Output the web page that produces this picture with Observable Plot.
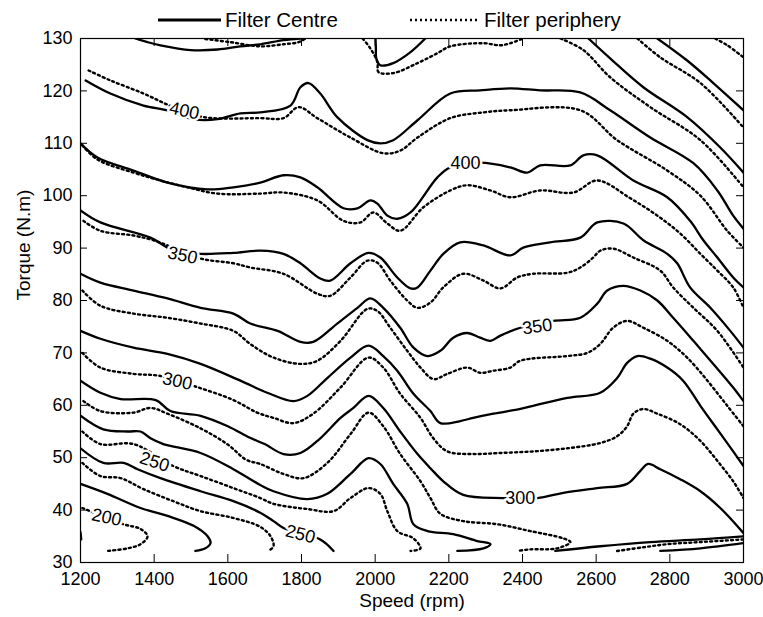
<!DOCTYPE html>
<html><head><meta charset="utf-8">
<script src="https://cdn.jsdelivr.net/npm/d3@7"></script>
<script src="https://cdn.jsdelivr.net/npm/@observablehq/plot@0.6"></script>
<style>body{margin:0;background:#fff;font-family:"Liberation Sans",Arial,sans-serif}#legend,#chart{width:763px}</style>
</head><body>
<div id="legend"></div>
<div id="chart"></div>
<script>
// ---- data: contour lines as [speed (rpm), torque (N.m)] ----
const seriesNames = ["Filter Centre", "Filter periphery"];
const xTicks = [1200, 1400, 1600, 1800, 2000, 2200, 2400, 2600, 2800, 3000];
const yTicks = [30, 40, 50, 60, 70, 80, 90, 100, 110, 120, 130];

const centreT1 = [[1349,130],[1382,129.3],[1417,128.7],[1499,127.8],[1572,127.9],[1634,128.5],[1688,128.9],[1751,129.7],[1797,130]];
const centreT2 = [[2001,130],[2002,128],[2003,126.2],[2014,124.9],[2049,125.3],[2096,127.4],[2136,130]];
const centreR1 = [[2766,130],[2847,125.8],[2918,121.5],[3000,116.3]];
const centreR2 = [[2579,130],[2638,126.2],[2728,120.7],[2847,115.0],[2937,109.2],[3000,104.4]];
const centreA = [[1214,122.0],[1281,119.5],[1371,117.2],[1436,116.3],[1507,114.6],[1572,114.6],[1634,115.7],[1688,115.9],[1770,117.2],[1797,120.7],[1819,121.5],[1851,119.5],[1897,115.0],[1979,110.6],[2014,110.0],[2049,110.6],[2115,114.4],[2204,119.5],[2285,120.1],[2367,120.5],[2448,120.1],[2557,119.7],[2638,116.3],[2747,111.1],[2864,106.2],[2929,101.0],[2972,96.2],[3000,93.7]];
const centreB = [[1200,110.0],[1246,107.3],[1344,104.8],[1436,102.5],[1545,101.2],[1615,101.6],[1688,102.5],[1751,103.9],[1797,103.5],[1843,101.6],[1914,97.6],[1952,97.6],[1987,99.1],[2006,98.5],[2033,96.2],[2060,95.6],[2096,96.8],[2169,103.5],[2204,105.4],[2285,106.3],[2367,105.4],[2413,104.4],[2448,105.8],[2530,105.8],[2565,107.7],[2603,107.7],[2701,102.9],[2793,99.7],[2855,95.2],[2891,91.5],[2929,88.2],[2972,84.4],[3000,82.5]];
const centreC = [[1200,97.2],[1254,94.9],[1390,92.0],[1436,90.1],[1463,89.5],[1526,88.9],[1615,89.1],[1688,89.5],[1751,88.9],[1797,87.1],[1851,84.2],[1878,83.8],[1933,87.1],[1982,89.1],[2014,88.2],[2060,84.4],[2096,82.3],[2115,82.5],[2150,85.7],[2185,88.9],[2231,91.1],[2294,90.5],[2367,88.6],[2402,90.1],[2475,91.1],[2557,92.0],[2603,94.9],[2674,94.7],[2728,91.5],[2793,88.9],[2820,87.1],[2855,82.5],[2910,78.6],[2964,74.2],[3000,71.0]];
const centreD = [[1200,85.1],[1254,83.4],[1344,81.9],[1436,80.4],[1526,78.6],[1615,77.5],[1661,75.6],[1735,74.2],[1797,72.1],[1832,72.1],[1897,75.6],[1952,78.6],[1987,80.4],[2022,78.6],[2068,74.8],[2104,71.0],[2142,69.4],[2177,70.4],[2212,72.9],[2250,73.8],[2285,72.9],[2313,72.3],[2340,73.3],[2394,74.8],[2484,76.1],[2557,76.7],[2603,79.4],[2630,81.9],[2674,82.8],[2720,81.9],[2766,80.0],[2809,76.7],[2864,72.3],[2918,67.9],[2972,63.4],[3000,60.8]];
const centreE = [[1200,74.2],[1254,72.7],[1344,71.0],[1436,69.8],[1526,67.9],[1634,64.7],[1707,62.4],[1778,60.8],[1816,61.8],[1870,65.2],[1933,69.1],[1982,71.4],[2022,69.4],[2060,66.6],[2104,62.2],[2150,58.9],[2177,56.6],[2231,57.0],[2266,57.6],[2321,58.4],[2394,59.3],[2429,59.9],[2522,61.4],[2611,62.4],[2657,65.2],[2684,68.1],[2712,69.4],[2747,68.9],[2793,67.2],[2836,64.7],[2883,59.9],[2929,55.4],[2972,51.2],[3000,48.4]];
const centreF = [[1200,64.7],[1254,62.4],[1309,61.2],[1404,61.0],[1444,58.9],[1526,58.0],[1600,56.0],[1660,53.8],[1700,52.6],[1751,50.7],[1797,50.9],[1851,53.7],[1906,57.6],[1941,59.5],[1982,61.8],[2022,59.5],[2068,55.0],[2115,50.7],[2150,48.0],[2185,45.5],[2239,42.9],[2348,42.3],[2440,42.3],[2511,43.3],[2603,44.2],[2684,45.0],[2720,47.5],[2741,48.8],[2774,47.8],[2828,45.9],[2883,43.6],[2937,40.4],[3000,35.6]];
const centreG = [[1200,58.0],[1262,55.4],[1328,55.0],[1363,55.0],[1390,53.7],[1425,52.6],[1526,50.9],[1615,47.8],[1688,44.8],[1724,43.6],[1816,42.1],[1870,43.1],[1933,46.9],[1982,49.9],[2014,48.8],[2049,45.0],[2087,41.2],[2104,37.3],[2142,36.0],[2212,35.4],[2277,34.1],[2313,33.5],[2294,32.7],[2223,32.2]];
const centreH = [[1200,51.8],[1262,49.0],[1317,49.0],[1355,47.8],[1417,46.1],[1526,43.6],[1615,41.7],[1688,39.5],[1724,37.9],[1751,36.6],[1851,34.4],[1887,32.2]];
const centreI = [[1200,45.0],[1273,43.1],[1363,40.4],[1436,38.9],[1507,37.0],[1545,35.0],[1553,33.7],[1539,32.7],[1512,32.2]];
const centreEdge = [[1200,35.8],[1202,34.4]];
const centreJ = [[2489,32.2],[2611,33.1],[2747,33.9],[2883,34.4],[3000,35.0]];
const centreK = [[2774,32.2],[2883,32.7],[3000,33.7]];

const periphT1 = [[1539,129.9],[1607,129.3],[1688,128.5],[1751,128.9],[1792,129.3],[1811,130]];
const periphT2 = [[1966,130],[1987,128.1],[2006,125.5],[2009,123.6],[2049,123.4],[2115,125.3],[2169,127.2],[2204,128.5],[2294,129.1],[2340,128.7],[2367,129.1],[2402,130]];
const periphR1 = [[2923,130],[2956,128.7],[3000,126.4]];
const periphR2 = [[2712,130],[2774,126.4],[2883,121.5],[3000,113.0]];
const periphR3 = [[2503,130],[2565,127.8],[2638,122.6],[2747,116.9],[2883,110.6],[3000,101.6]];
const periphA = [[1222,123.9],[1281,122.0],[1371,119.5],[1452,116.9],[1534,115.0],[1688,114.8],[1751,114.8],[1792,116.9],[1843,114.8],[1933,111.1],[2022,108.1],[2068,108.6],[2115,111.1],[2204,114.8],[2294,115.9],[2367,116.3],[2557,116.3],[2657,110.6],[2793,104.8],[2883,100.0],[2956,93.3],[3000,90.1]];
const periphB = [[1205,109.6],[1246,106.9],[1344,104.4],[1417,102.9],[1490,101.6],[1572,100.4],[1688,100.4],[1751,100.6],[1843,99.1],[1914,95.2],[1960,94.9],[1995,96.8],[2033,94.7],[2068,93.3],[2131,97.8],[2204,101.0],[2250,102.0],[2313,101.0],[2367,99.7],[2448,101.0],[2538,100.6],[2603,102.9],[2693,99.5],[2766,96.2],[2828,92.8],[2883,88.9],[2929,85.7],[2972,82.5],[3000,78.6]];
const periphC = [[1208,95.2],[1254,93.3],[1344,92.4],[1398,91.5],[1458,89.9],[1526,88.0],[1615,87.1],[1661,86.3],[1751,85.1],[1843,81.3],[1878,80.9],[1933,84.4],[1979,87.6],[2006,87.2],[2041,83.8],[2087,80.0],[2115,78.6],[2150,79.6],[2185,82.5],[2239,85.1],[2294,83.8],[2340,82.3],[2386,84.4],[2429,85.1],[2522,85.3],[2557,86.3],[2592,88.2],[2611,89.5],[2646,89.9],[2701,88.2],[2774,85.7],[2809,82.5],[2864,78.6],[2929,74.2],[3000,67.2]];
const periphD = [[1205,81.9],[1254,79.0],[1344,77.5],[1436,76.7],[1526,75.6],[1615,74.2],[1661,71.7],[1724,69.1],[1797,67.9],[1843,68.5],[1906,72.3],[1979,78.4],[2006,78.0],[2041,74.8],[2087,70.4],[2123,67.2],[2158,65.0],[2196,66.0],[2250,67.2],[2285,66.2],[2321,66.6],[2367,67.2],[2394,68.5],[2522,69.4],[2576,70.0],[2611,71.7],[2646,74.8],[2684,76.1],[2728,74.8],[2793,72.3],[2847,69.1],[2902,64.7],[2956,59.9],[3000,56.0]];
const periphE = [[1205,70.0],[1254,67.2],[1344,66.0],[1417,65.6],[1507,63.7],[1615,61.0],[1680,58.6],[1724,57.6],[1778,56.6],[1832,58.4],[1906,63.4],[1982,69.1],[2022,67.2],[2068,62.2],[2123,57.6],[2158,53.7],[2196,51.2],[2266,50.7],[2340,50.9],[2429,51.2],[2522,51.8],[2611,52.8],[2657,54.1],[2684,56.0],[2701,58.4],[2728,59.3],[2766,58.4],[2828,56.4],[2883,53.2],[2929,49.4],[2972,45.5],[3000,42.3]];
const periphF = [[1208,60.8],[1254,58.9],[1344,58.6],[1390,59.5],[1436,58.4],[1526,55.6],[1600,52.5],[1650,49.6],[1688,48.8],[1751,46.9],[1805,46.1],[1870,49.0],[1933,54.5],[1982,58.6],[2022,56.0],[2068,50.7],[2123,45.5],[2150,42.3],[2177,39.3],[2239,37.9],[2332,37.3],[2421,36.0],[2511,34.6],[2530,33.9],[2494,32.7],[2421,32.5],[2386,32.2]];
const periphG = [[1205,55.0],[1254,52.6],[1344,52.6],[1452,48.4],[1526,46.5],[1615,44.2],[1688,42.3],[1724,41.2],[1816,40.2],[1887,39.8],[1933,42.3],[1982,44.2],[2014,43.1],[2033,39.8],[2060,36.0],[2104,34.6],[2123,32.7],[2096,32.2]];
const periphH = [[1205,49.0],[1254,46.5],[1309,46.1],[1371,44.0],[1452,41.7],[1526,39.8],[1615,38.5],[1688,36.8],[1716,35.0],[1724,33.1],[1710,32.2]];
const periphI = [[1205,40.4],[1317,37.3],[1363,36.4],[1382,35.0],[1363,33.5],[1328,32.7],[1273,32.2]];
const periphJ = [[2657,32.2],[2728,32.9],[2793,33.5],[2883,33.9],[3000,34.4]];

// contour labels
const labelText   = ["400", "400", "350", "350", "300", "300", "250", "250", "200"];
const labelSpeed  = [1482, 2245, 1477, 2440, 1463, 2394, 1401, 1797, 1271];
const labelTorque = [116.2, 106.2, 88.6, 75.0, 64.6, 42.3, 49.2, 35.4, 38.6];
const labelAngle  = [12, 0, 12, -8, 12, 0, 18, 15, 12];

// ---- build tables ----
const centreLines = [centreT1, centreT2, centreR1, centreR2, centreA, centreB, centreC, centreD, centreE, centreF, centreG, centreH, centreI, centreEdge, centreJ, centreK];
const periphLines = [periphT1, periphT2, periphR1, periphR2, periphR3, periphA, periphB, periphC, periphD, periphE, periphF, periphG, periphH, periphI, periphJ];
const toRows = (lines) => lines.flatMap((arr, id) => arr.map(([speed, torque]) => ({speed, torque, id})));
const centreRows = toRows(centreLines);
const periphRows = toRows(periphLines);
const labels = labelText.map((t, i) => ({text: t, speed: labelSpeed[i], torque: labelTorque[i], angle: labelAngle[i]}));

// ---- layout ----
const LEG_H = 32;
const W = 763, H = 617 - LEG_H, mL = 80, mR = 20, mT = 6, mB = 55;
const FW = W - mL - mR, FH = H - mT - mB;
const FONT = "'Liberation Sans', Arial, Helvetica, sans-serif";

// legend (above the svg)
const lg = d3.select("#legend").append("svg").attr("width", W).attr("height", LEG_H)
  .style("display", "block").style("font-family", FONT);
lg.append("line").attr("x1", 158).attr("x2", 221).attr("y1", 20).attr("y2", 20)
  .attr("stroke", "black").attr("stroke-width", 3);
lg.append("text").attr("x", 225).attr("y", 26.5).attr("font-size", 20.5).text(seriesNames[0]);
lg.append("line").attr("x1", 410).attr("x2", 480).attr("y1", 20).attr("y2", 20)
  .attr("stroke", "black").attr("stroke-width", 2.5).attr("stroke-dasharray", "2,3");
lg.append("text").attr("x", 484).attr("y", 26.5).attr("font-size", 20.5).text(seriesNames[1]);

const chart = Plot.plot({
  width: W, height: H,
  marginLeft: mL, marginRight: mR, marginTop: mT, marginBottom: mB,
  style: {fontFamily: FONT, fontSize: "18px", background: "white", color: "black", overflow: "visible"},
  x: {domain: [1200, 3000]},
  y: {domain: [30, 130]},
  marks: [
    Plot.line(centreRows, {x: "speed", y: "torque", z: "id", stroke: "black", strokeWidth: 2.3, curve: "catmull-rom", clip: true}),
    Plot.line(periphRows, {x: "speed", y: "torque", z: "id", stroke: "black", strokeWidth: 2.4, strokeDasharray: "2,3.2", curve: "catmull-rom", clip: true}),
    Plot.text(labels, {x: "speed", y: "torque", text: "text", rotate: "angle", fontSize: 18, fill: "black", stroke: "white", strokeWidth: 5}),
    Plot.frame({stroke: "black", strokeWidth: 1.2}),
    Plot.ruleX(xTicks, {x: d => d, insetTop: FH - 8, stroke: "black"}),
    Plot.ruleX(xTicks, {x: d => d, insetBottom: FH - 8, stroke: "black"}),
    Plot.ruleY(yTicks, {y: d => d, insetRight: FW - 7, stroke: "black"}),
    Plot.ruleY(yTicks, {y: d => d, insetLeft: FW - 7, stroke: "black"}),
    Plot.axisX(xTicks, {tickSize: 0, tickPadding: 10, label: null, fontSize: 18, tickFormat: d => String(d)}),
    Plot.axisY(yTicks, {tickSize: 0, tickPadding: 8, label: null, fontSize: 18, tickFormat: d => String(d)}),
    Plot.text(["Speed (rpm)"], {text: d => d, frameAnchor: "bottom", dy: 44, fontSize: 19}),
    Plot.text(["Torque (N.m)"], {text: d => d, frameAnchor: "left", dx: -57, rotate: -90, fontSize: 19})
  ]
});
document.getElementById("chart").appendChild(chart);
</script>
</body></html>
